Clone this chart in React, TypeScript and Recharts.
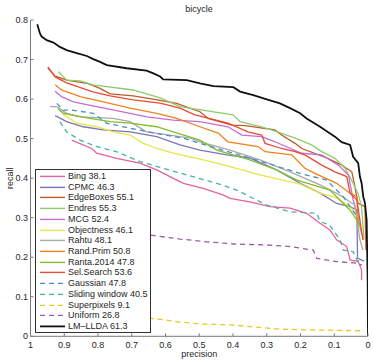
import { LineChart, Line, XAxis, YAxis } from "recharts"

const font = "'Liberation Sans', Arial, sans-serif"
const axisColor = "#7a7a7a"
const textColor = "#262626"

const xTicks = [0, 0.1, 0.2, 0.3, 0.4, 0.5, 0.6, 0.7, 0.8, 0.9, 1]
const yTicks = [0, 0.1, 0.2, 0.3, 0.4, 0.5, 0.6, 0.7, 0.8]

type Pt = [number, number] // [precision, recall]

const bing: Pt[] = [
  [0.878, 0.496], [0.819, 0.475], [0.804, 0.463], [0.745, 0.45], [0.676, 0.438], [0.626, 0.421],
  [0.587, 0.404], [0.547, 0.387], [0.488, 0.374], [0.428, 0.357], [0.409, 0.349], [0.35, 0.34],
  [0.29, 0.328], [0.231, 0.324], [0.182, 0.311], [0.142, 0.286], [0.113, 0.269], [0.093, 0.244],
  [0.063, 0.227], [0.053, 0.193], [0.029, 0.189], [0.019, 0.168], [0.019, 0.142],
]
const cpmc: Pt[] = [
  [0.927, 0.558], [0.893, 0.543], [0.844, 0.53], [0.784, 0.522], [0.705, 0.517], [0.626, 0.505],
  [0.557, 0.484], [0.498, 0.471], [0.418, 0.459], [0.35, 0.451], [0.271, 0.421], [0.201, 0.387],
  [0.142, 0.362], [0.093, 0.336], [0.053, 0.328], [0.033, 0.319], [0.031, 0.198], [0.012, 0.19],
]
const edgeBoxes: Pt[] = [
  [0.949, 0.679], [0.927, 0.658], [0.893, 0.648], [0.833, 0.64], [0.794, 0.627], [0.764, 0.613],
  [0.696, 0.608], [0.637, 0.6], [0.567, 0.589], [0.498, 0.568], [0.474, 0.551], [0.404, 0.534],
  [0.364, 0.533], [0.276, 0.522], [0.256, 0.509], [0.216, 0.488], [0.196, 0.475], [0.119, 0.45],
  [0.078, 0.433], [0.048, 0.416], [0.041, 0.388], [0.03, 0.337], [0.009, 0.328], [0.006, 0.218],
]
const endres: Pt[] = [
  [0.917, 0.669], [0.893, 0.648], [0.853, 0.646], [0.815, 0.636], [0.696, 0.623], [0.616, 0.603],
  [0.557, 0.581], [0.4, 0.56], [0.379, 0.543], [0.315, 0.53], [0.256, 0.513], [0.216, 0.501],
  [0.167, 0.484], [0.137, 0.467], [0.098, 0.45], [0.068, 0.425], [0.044, 0.387], [0.03, 0.362],
  [0.019, 0.328], [0.012, 0.244],
]
const mcg: Pt[] = [
  [0.927, 0.62], [0.908, 0.606], [0.873, 0.593], [0.804, 0.581], [0.705, 0.564], [0.656, 0.555],
  [0.577, 0.547], [0.498, 0.543], [0.415, 0.53], [0.374, 0.509], [0.315, 0.505], [0.276, 0.492],
  [0.196, 0.463], [0.137, 0.459], [0.088, 0.433], [0.058, 0.408], [0.044, 0.345], [0.03, 0.302],
  [0.018, 0.256],
]
const objectness: Pt[] = [
  [0.904, 0.562], [0.863, 0.539], [0.804, 0.53], [0.755, 0.517], [0.705, 0.509], [0.666, 0.488],
  [0.626, 0.475], [0.577, 0.463], [0.498, 0.448], [0.447, 0.438], [0.32, 0.408], [0.201, 0.385],
  [0.142, 0.362], [0.092, 0.35], [0.053, 0.327], [0.033, 0.307], [0.024, 0.269],
]
const rahtu: Pt[] = [
  [0.942, 0.581], [0.922, 0.581], [0.893, 0.564], [0.853, 0.555], [0.755, 0.551], [0.705, 0.543],
  [0.656, 0.517], [0.587, 0.509], [0.527, 0.501], [0.498, 0.492], [0.409, 0.471], [0.32, 0.446],
  [0.231, 0.416], [0.142, 0.383], [0.083, 0.357], [0.039, 0.332], [0.024, 0.244], [0.015, 0.218],
]
const randPrim: Pt[] = [
  [0.927, 0.636], [0.908, 0.623], [0.853, 0.606], [0.784, 0.593], [0.705, 0.577], [0.626, 0.564],
  [0.567, 0.551], [0.498, 0.53], [0.444, 0.514], [0.415, 0.492], [0.326, 0.48], [0.305, 0.467],
  [0.226, 0.459], [0.187, 0.425], [0.157, 0.412], [0.093, 0.387], [0.053, 0.362], [0.033, 0.353],
  [0.029, 0.286],
]
const ranta: Pt[] = [
  [0.919, 0.577], [0.903, 0.564], [0.824, 0.551], [0.764, 0.543], [0.705, 0.539], [0.626, 0.53],
  [0.577, 0.517], [0.498, 0.496], [0.448, 0.471], [0.35, 0.446], [0.271, 0.421], [0.211, 0.395],
  [0.113, 0.37], [0.053, 0.319], [0.033, 0.294], [0.024, 0.277],
]
const selSearch: Pt[] = [
  [0.948, 0.681], [0.927, 0.656], [0.893, 0.641], [0.815, 0.618], [0.764, 0.608], [0.696, 0.598],
  [0.616, 0.59], [0.557, 0.577], [0.513, 0.56], [0.474, 0.552], [0.415, 0.539], [0.356, 0.517],
  [0.315, 0.509], [0.305, 0.488], [0.256, 0.475], [0.216, 0.467], [0.187, 0.459], [0.137, 0.433],
  [0.098, 0.416], [0.063, 0.404], [0.053, 0.362], [0.033, 0.345], [0.024, 0.294], [0.015, 0.244],
]
const gaussian: Pt[] = [
  [0.922, 0.589], [0.903, 0.572], [0.878, 0.572], [0.814, 0.564], [0.774, 0.539], [0.705, 0.526],
  [0.626, 0.513], [0.547, 0.501], [0.498, 0.488], [0.399, 0.463], [0.3, 0.438], [0.201, 0.412],
  [0.122, 0.395], [0.103, 0.378], [0.073, 0.353], [0.053, 0.328], [0.036, 0.307],
]
const sliding: Pt[] = [
  [0.913, 0.543], [0.893, 0.517], [0.853, 0.496], [0.804, 0.48], [0.745, 0.467], [0.676, 0.442],
  [0.607, 0.425], [0.537, 0.408], [0.448, 0.387], [0.389, 0.37], [0.35, 0.353], [0.3, 0.332],
  [0.231, 0.315], [0.152, 0.311], [0.142, 0.29], [0.113, 0.281], [0.083, 0.244], [0.073, 0.218],
  [0.044, 0.214], [0.033, 0.193], [0.019, 0.185],
]
const superpixels: Pt[] = [
  [0.676, 0.051], [0.646, 0.046], [0.616, 0.043], [0.567, 0.037], [0.498, 0.031], [0.409, 0.029],
  [0.33, 0.023], [0.261, 0.018], [0.162, 0.016], [0.019, 0.014],
]
const uniform: Pt[] = [
  [0.75, 0.264], [0.646, 0.256], [0.557, 0.246], [0.478, 0.239], [0.389, 0.233], [0.3, 0.231],
  [0.231, 0.227], [0.162, 0.218], [0.152, 0.197], [0.093, 0.189], [0.033, 0.185], [0.018, 0.18],
]
const lmLlda: Pt[] = [
  [0.98, 0.789], [0.972, 0.766], [0.967, 0.758], [0.952, 0.749], [0.932, 0.743], [0.913, 0.732],
  [0.893, 0.724], [0.863, 0.716], [0.833, 0.709], [0.814, 0.701], [0.794, 0.694], [0.774, 0.686],
  [0.715, 0.678], [0.656, 0.672], [0.636, 0.665], [0.616, 0.657], [0.607, 0.65], [0.537, 0.648],
  [0.498, 0.64], [0.458, 0.633], [0.399, 0.63], [0.379, 0.619], [0.34, 0.61], [0.3, 0.599],
  [0.261, 0.589], [0.231, 0.577], [0.201, 0.564], [0.182, 0.551], [0.142, 0.53], [0.119, 0.517],
  [0.098, 0.505], [0.078, 0.491], [0.053, 0.484], [0.044, 0.454], [0.029, 0.438], [0.024, 0.404],
  [0.019, 0.388], [0.014, 0.353], [0.009, 0.337], [0.004, 0.294], [0.001, 0.142], [0, 0],
]

const series = [
  { name: "Bing 38.1", data: bing, color: "#e8619f" },
  { name: "CPMC 46.3", data: cpmc, color: "#7b74b8" },
  { name: "EdgeBoxes 55.1", data: edgeBoxes, color: "#bf5b2a" },
  { name: "Endres 55.3", data: endres, color: "#8ccc6e" },
  { name: "MCG 52.4", data: mcg, color: "#c86cd2" },
  { name: "Objectness 46.1", data: objectness, color: "#e6e64a" },
  { name: "Rahtu 48.1", data: rahtu, color: "#aaaaaa" },
  { name: "Rand.Prim 50.8", data: randPrim, color: "#f0821e" },
  { name: "Ranta.2014 47.8", data: ranta, color: "#82bf2c" },
  { name: "Sel.Search 53.6", data: selSearch, color: "#eb4b35" },
  { name: "Gaussian 47.8", data: gaussian, color: "#4d8fca", dashed: true },
  { name: "Sliding window 40.5", data: sliding, color: "#44b39d", dashed: true },
  { name: "Superpixels 9.1", data: superpixels, color: "#e9c919", dashed: true },
  { name: "Uniform 26.8", data: uniform, color: "#9a5aa5", dashed: true },
  { name: "LM\u2013LLDA 61.3", data: lmLlda, color: "#111111", width: 1.8 },
]

const rowH = 10.71

const XTick = (props: any) => {
  const { x, y, payload } = props
  return (
    <g>
      <line x1={x} x2={x} y1={y - 5} y2={y - 8} stroke={axisColor} />
      <text x={x} y={y} dy="0.71em" textAnchor="middle" fontSize={9} fontFamily={font} fill={textColor}>
        {payload.value}
      </text>
    </g>
  )
}

const YTick = (props: any) => {
  const { x, y, payload } = props
  return (
    <g>
      <line x1={x + 2.5} x2={x + 5.5} y1={y} y2={y} stroke={axisColor} />
      <text x={x} y={y} dy="0.35em" textAnchor="end" fontSize={9} fontFamily={font} fill={textColor}>
        {payload.value}
      </text>
    </g>
  )
}

function LegendBox() {
  return (
    <div
      style={{
        position: "absolute",
        left: 35,
        top: 169,
        width: 116,
        height: 164,
        background: "#fff",
        border: "1px solid #333",
        boxSizing: "border-box",
        fontFamily: font,
        fontSize: 9,
        color: textColor,
      }}
    >
      {series.map((s, i) => (
        <div
          key={s.name}
          style={{
            position: "absolute",
            left: 0,
            top: 1 + i * rowH,
            height: rowH,
            lineHeight: rowH + "px",
            whiteSpace: "nowrap",
          }}
        >
          <svg width={32} height={11} style={{ position: "absolute", left: 0, top: 0 }}>
            <line
              x1={4}
              x2={29}
              y1={5.4}
              y2={5.4}
              stroke={s.color}
              strokeWidth={s.width ?? 1.4}
              strokeDasharray={s.dashed ? "5 4" : undefined}
            />
          </svg>
          <span style={{ position: "absolute", left: 32 }}>{s.name}</span>
        </div>
      ))}
    </div>
  )
}

export default function App() {
  return (
    <div style={{ position: "absolute", left: 0, top: 0, width: 374, height: 362, background: "#fff" }}>
      <div
        style={{
          position: "absolute",
          left: 30,
          width: 338,
          top: 4,
          textAlign: "center",
          fontFamily: font,
          fontSize: 9,
          color: textColor,
        }}
      >
        bicycle
      </div>
      <LineChart width={374} height={362} margin={{ top: 20, right: 6, bottom: 24.7, left: 29.5 }}>
        <XAxis
          type="number"
          dataKey="p"
          domain={[0, 1]}
          reversed
          ticks={xTicks}
          height={1}
          tickSize={0}
          tickMargin={5}
          tick={<XTick />}
          stroke={axisColor}
          allowDataOverflow
          label={{ value: "precision", position: "bottom", offset: 13, fontSize: 9, fontFamily: font, fill: textColor }}
        />
        <YAxis
          type="number"
          dataKey="r"
          domain={[0, 0.8]}
          ticks={yTicks}
          width={1}
          tickSize={0}
          tickMargin={2.5}
          tick={<YTick />}
          stroke={axisColor}
          allowDataOverflow
          label={{ value: "recall", angle: -90, position: "left", offset: 20, fontSize: 9, fontFamily: font, fill: textColor, textAnchor: "middle" }}
        />
        {series.map((s) => (
          <Line
            key={s.name}
            data={s.data.map(([p, r]) => ({ p, r }))}
            dataKey="r"
            name={s.name}
            stroke={s.color}
            strokeWidth={s.width ?? 1.3}
            strokeDasharray={s.dashed ? "5 4" : undefined}
            dot={false}
            activeDot={false}
            type="linear"
            isAnimationActive={false}
          />
        ))}
      </LineChart>
      <LegendBox />
    </div>
  )
}
